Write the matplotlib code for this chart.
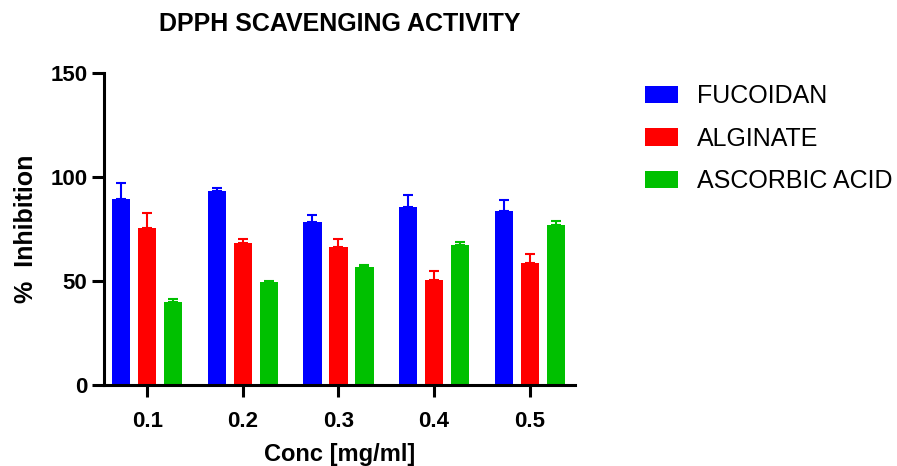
import numpy as np
import matplotlib
matplotlib.use("Agg")
import matplotlib.pyplot as plt

plt.rcParams['font.family'] = ['Liberation Sans', 'DejaVu Sans']

conc = ["0.1", "0.2", "0.3", "0.4", "0.5"]
fucoidan = [89.3, 93.4, 78.2, 85.4, 83.8]
fucoidan_err = [8.0, 1.2, 3.4, 6.0, 5.3]
alginate = [75.3, 68.3, 66.2, 50.3, 58.7]
alginate_err = [7.5, 2.0, 4.0, 4.3, 4.2]
ascorbic = [39.7, 49.5, 56.7, 67.3, 76.9]
ascorbic_err = [1.5, 0.7, 1.1, 1.6, 2.1]

series = [("FUCOIDAN", fucoidan, fucoidan_err, "#0000FF"),
          ("ALGINATE", alginate, alginate_err, "#FF0000"),
          ("ASCORBIC ACID", ascorbic, ascorbic_err, "#00C000")]

fig = plt.figure(figsize=(8.97, 4.66), dpi=100)
ax = fig.add_axes([104/897, 1-385/466, (575-104)/897, (385-73)/466])

x = np.arange(len(conc))
offset = 0.272
width = 0.19
for i, (name, vals, err, col) in enumerate(series):
    pos = x + (i - 1) * offset
    ax.bar(pos, vals, width, color=col, label=name, zorder=2)
    ax.errorbar(pos, vals, yerr=[np.zeros(len(err)), err], fmt="none",
                ecolor=col, elinewidth=1.5, capsize=3.5, capthick=1.5, zorder=1)

ax.set_xlim(-0.453, 4.474)
ax.set_ylim(0, 150)
ax.set_yticks([0, 50, 100, 150])
ax.set_xticks(x)
ax.set_xticklabels(conc)

for s in ["top", "right"]:
    ax.spines[s].set_visible(False)
for s in ["left", "bottom"]:
    ax.spines[s].set_linewidth(2.2)
ax.tick_params(width=2.2, length=8.5, labelsize=16)
for lab in ax.get_xticklabels() + ax.get_yticklabels():
    lab.set_fontweight("bold")
ax.tick_params(axis="x", pad=10)

ax.set_xlabel("Conc [mg/ml]", fontsize=17, fontweight="bold", labelpad=8)
ax.set_ylabel("%  Inhibition", fontsize=18, fontweight="bold", labelpad=9)
ax.set_title("DPPH SCAVENGING ACTIVITY", fontsize=18, fontweight="bold", pad=30)

fig.legend(loc="upper left", bbox_to_anchor=(645/897, 1-84/466), frameon=False,
           fontsize=18, handlelength=1.3, handleheight=0.68, handletextpad=0.78,
           labelspacing=0.75, borderpad=0, borderaxespad=0)

fig.savefig("out.png", dpi=100)
